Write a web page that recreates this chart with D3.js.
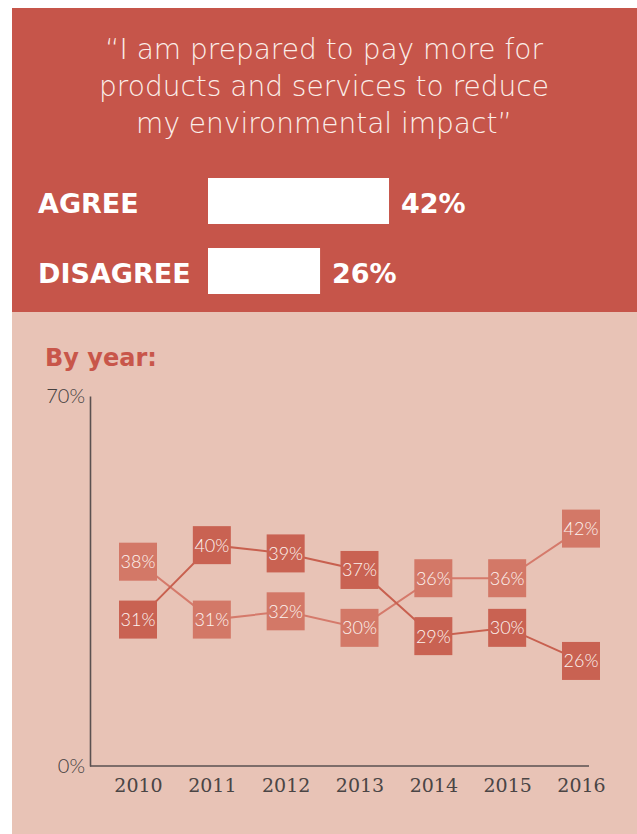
<!DOCTYPE html>
<html>
<head>
<meta charset="utf-8">
<script src="https://cdn.jsdelivr.net/npm/d3@7"></script>
<style>
  body { margin: 0; background: #fff; }
  svg { display: block; }
</style>
</head>
<body>
<div id="chart"></div>
<script>
// headline question + overall answers
var quoteLines = ["\u201CI am prepared to pay more for", "products and services to reduce", "my environmental impact\u201D"];
var answers = ["AGREE", "DISAGREE"];
var answerValues = [42, 26];

// by year
var years = ["2010", "2011", "2012", "2013", "2014", "2015", "2016"];
var agreeByYear = [38, 31, 32, 30, 36, 36, 42];
var disagreeByYear = [31, 40, 39, 37, 29, 30, 26];
var axisTicks = [0, 70];

var W = 637, H = 834;
var red = "#c6554a", pink = "#e8c3b6";

var svg = d3.select("#chart").append("svg")
    .attr("width", W)
    .attr("height", H);

// backgrounds
svg.append("rect").attr("x", 12).attr("y", 312).attr("width", W - 12).attr("height", H - 312).attr("fill", pink);
svg.append("rect").attr("x", 12).attr("y", 8).attr("width", W - 12).attr("height", 304).attr("fill", red);

// quote
svg.append("g").selectAll("text")
    .data(quoteLines)
  .enter().append("text")
    .attr("x", 324)
    .attr("y", function(d, i) { return 59 + i * 37; })
    .attr("text-anchor", "middle")
    .attr("fill", "#fbeee9")
    .style("font-family", "DejaVu Sans")
    .style("font-weight", 200)
    .style("font-size", "28px")
    .text(function(d) { return d; });

///////////////// top bars /////////////////
var xb = d3.scaleLinear().domain([0, 100]).range([208, 639]);
var yb = d3.scaleBand().domain(answers).range([178, 294]).paddingInner(0.343);

var gTop = svg.append("g");
gTop.selectAll(".abar")
    .data(answers)
  .enter().append("rect")
    .attr("class", "abar")
    .attr("x", xb(0))
    .attr("y", function(d) { return yb(d); })
    .attr("width", function(d, i) { return xb(answerValues[i]) - xb(0); })
    .attr("height", yb.bandwidth())
    .attr("fill", "#fff");

gTop.selectAll(".aname")
    .data(answers)
  .enter().append("text")
    .attr("class", "aname")
    .attr("x", 38)
    .attr("y", function(d) { return yb(d) + yb.bandwidth() / 2 + 12; })
    .attr("fill", "#fff")
    .style("font-family", "DejaVu Sans")
    .style("font-weight", "bold")
    .style("font-size", "27px")
    .text(function(d) { return d; });

gTop.selectAll(".aval")
    .data(answers)
  .enter().append("text")
    .attr("class", "aval")
    .attr("x", function(d, i) { return xb(answerValues[i]) + 12; })
    .attr("y", function(d) { return yb(d) + yb.bandwidth() / 2 + 12; })
    .attr("fill", "#fff")
    .style("font-family", "DejaVu Sans")
    .style("font-weight", "bold")
    .style("font-size", "27px")
    .text(function(d, i) { return answerValues[i] + "%"; });

///////////////// by year /////////////////
svg.append("text")
    .attr("x", 45)
    .attr("y", 366)
    .attr("fill", "#c8564a")
    .style("font-family", "DejaVu Sans")
    .style("font-weight", "bold")
    .style("font-size", "24px")
    .text("By year:");

var x = d3.scalePoint().domain(years).range([138, 581]);
var yAxisScale = d3.scaleLinear().domain([0, 70]).range([766, 396]);
// marker placement scale
var y = d3.scaleLinear().domain([0, 70]).range([876, 297]);

var axisColor = "#5a5050";

var gy = svg.append("g")
    .attr("transform", "translate(90,0)")
    .call(d3.axisLeft(yAxisScale).tickValues(axisTicks).tickSize(0).tickSizeOuter(0).tickPadding(5)
        .tickFormat(function(d) { return d + "%"; }));
gy.select(".domain").attr("stroke", axisColor).attr("stroke-width", 1.6);
gy.selectAll("text")
    .attr("fill", "#454040")
    .style("font-family", "Lato")
    .style("font-weight", 300)
    .style("font-size", "20px");

var gx = svg.append("g")
    .attr("transform", "translate(0,766)")
    .call(d3.axisBottom(x).tickSize(0).tickPadding(13));
gx.select(".domain").remove();
gx.append("line")
    .attr("x1", 90).attr("x2", 589)
    .attr("stroke", axisColor).attr("stroke-width", 1.6);
gx.selectAll("text")
    .attr("fill", "#4a4545")
    .style("font-family", "DejaVu Serif")
    .style("font-size", "19px");

var series = [
  { values: agreeByYear, box: "#d37867", line: "#d57a6b" },
  { values: disagreeByYear, box: "#c96252", line: "#c8604f" }
];

var line = d3.line()
    .x(function(d, i) { return x(years[i]); })
    .y(function(d) { return y(d); });

series.forEach(function(s) {
  svg.append("path")
      .datum(s.values)
      .attr("d", line)
      .attr("fill", "none")
      .attr("stroke", s.line)
      .attr("stroke-width", 2);
});

var box = 38;
series.forEach(function(s) {
  var g = svg.append("g").selectAll("g")
      .data(s.values)
    .enter().append("g")
      .attr("transform", function(d, i) { return "translate(" + x(years[i]) + "," + y(d) + ")"; });

  g.append("rect")
      .attr("x", -box / 2)
      .attr("y", -box / 2)
      .attr("width", box)
      .attr("height", box)
      .attr("fill", s.box);

  g.append("text")
      .attr("text-anchor", "middle")
      .attr("dy", "0.36em")
      .attr("fill", "#fdf3ef")
      .style("font-family", "Lato")
      .style("font-weight", 300)
      .style("font-size", "18px")
      .text(function(d) { return d + "%"; });
});
</script>
</body>
</html>
